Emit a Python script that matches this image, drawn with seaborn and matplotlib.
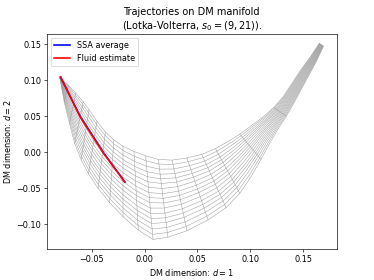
# %% DM manifold trajectories (Lotka-Volterra)
import numpy as np
import matplotlib
matplotlib.use("Agg")
import matplotlib.pyplot as plt
import seaborn as sns
import pandas as pd

# Manifold edges, read at matching cross-sections (apex -> tip)
upper_x = [-0.080, -0.072, -0.065, -0.058, -0.0525, -0.045, -0.037, -0.029, -0.020,
           -0.010, 0.001, 0.013, 0.026, 0.040, 0.054, 0.067, 0.079, 0.090, 0.101,
           0.112, 0.122, 0.131, 0.139, 0.147, 0.156, 0.165]
upper_y = [0.103, 0.093, 0.082, 0.070, 0.059, 0.043, 0.028, 0.017, 0.008,
           0.001, -0.005, -0.010, -0.011, -0.008, -0.003, 0.005, 0.015, 0.025, 0.037,
           0.049, 0.062, 0.077, 0.095, 0.113, 0.131, 0.151]
lower_x = [-0.080, -0.076, -0.071, -0.066, -0.060, -0.053, -0.044, -0.033, -0.020,
           -0.006, 0.008, 0.022, 0.040, 0.060, 0.077, 0.090, 0.101, 0.110, 0.118,
           0.126, 0.134, 0.141, 0.148, 0.155, 0.162, 0.169]
lower_y = [0.103, 0.070, 0.040, 0.012, -0.010, -0.030, -0.050, -0.070, -0.090,
           -0.108, -0.121, -0.118, -0.109, -0.094, -0.077, -0.057, -0.033, -0.010, 0.012,
           0.032, 0.050, 0.068, 0.087, 0.106, 0.125, 0.147]

# relative position of each grid line between the two edges
row_frac = [0.0, 0.06, 0.125, 0.19, 0.25, 0.31, 0.375, 0.44, 0.5,
            0.56, 0.625, 0.69, 0.75, 0.81, 0.875, 0.94, 1.0]
# cross-sections drawn as grid lines
cross_sections = [1, 2, 3, 4, 5, 6, 7, 8, 9, 10, 11, 12, 13, 14, 15, 17, 20, 25]

# Trajectories
ssa_x = [-0.0795, -0.0608, -0.0384, -0.0186]
ssa_y = [0.1045, 0.0495, -0.0016, -0.0415]
fluid_x = [-0.0793, -0.0612, -0.0388, -0.0189]
fluid_y = [0.1045, 0.0497, -0.0014, -0.0410]

ux, uy = np.array(upper_x), np.array(upper_y)
lx, ly = np.array(lower_x), np.array(lower_y)
v = np.array(row_frac)
mesh_x = ux[:, None] + v[None, :] * (lx - ux)[:, None]
mesh_y = uy[:, None] + v[None, :] * (ly - uy)[:, None]

traj = pd.concat([
    pd.DataFrame({'x': ssa_x, 'y': ssa_y, 'label': 'SSA average'}),
    pd.DataFrame({'x': fluid_x, 'y': fluid_y, 'label': 'Fluid estimate'}),
])

plt.style.use('default')
dpi = 58.4
fig, ax = plt.subplots(figsize=(374 / dpi, 280 / dpi), dpi=dpi)

# wireframe
mesh_color = '0.6'
for j in range(mesh_x.shape[1]):
    ax.plot(mesh_x[:, j], mesh_y[:, j], color=mesh_color, lw=0.6)
for i in cross_sections:
    ax.plot(mesh_x[i], mesh_y[i], color=mesh_color, lw=0.6)

sns.lineplot(data=traj, x='x', y='y', hue='label', sort=False, estimator=None,
             palette={'SSA average': 'blue', 'Fluid estimate': 'red'},
             linewidth=2, ax=ax)

ax.legend(loc='upper left')
ax.set_title("Trajectories on DM manifold\n(Lotka-Volterra, $s_0 = (9, 21)$).")
ax.set_xlabel("DM dimension: $d = 1$")
ax.set_ylabel("DM dimension: $d = 2$")

plt.savefig("out.png", dpi=dpi)
plt.close()
